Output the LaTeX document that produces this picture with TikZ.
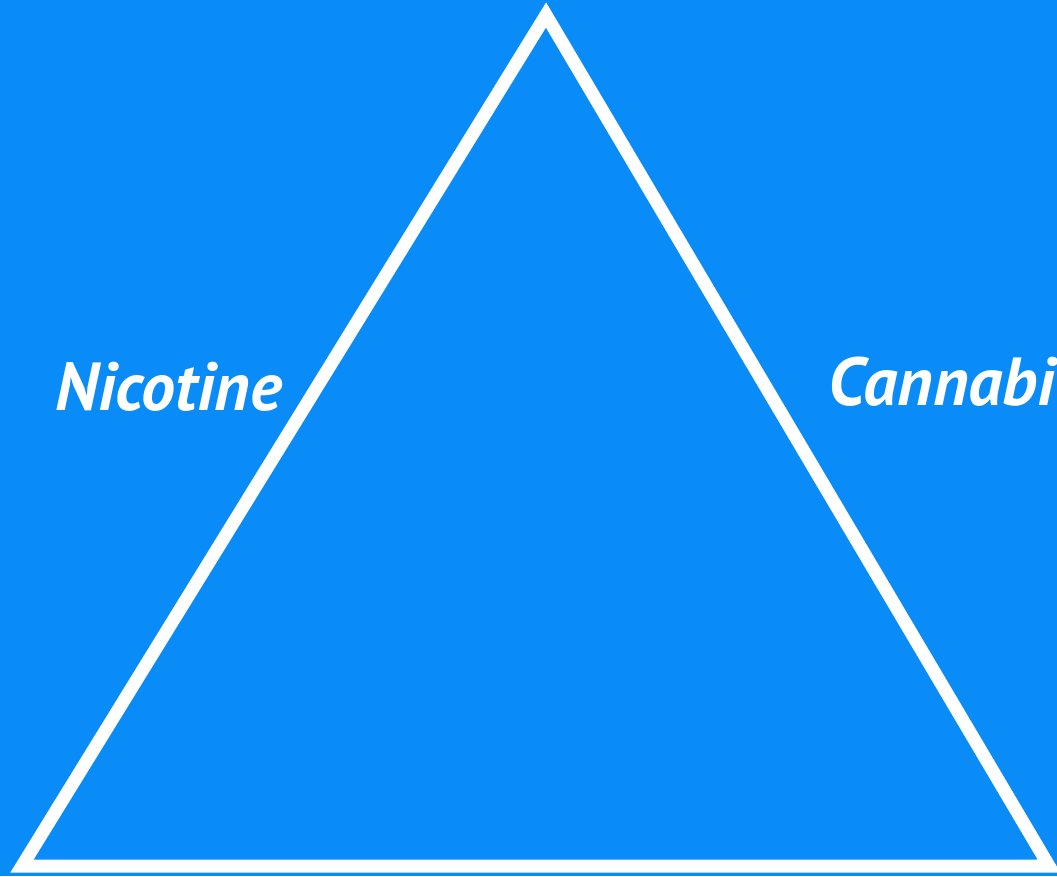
\documentclass[tikz,border=0pt]{standalone}
\usepackage{fontspec}
\setmainfont{PT Sans}
\definecolor{bg}{RGB}{10,140,248}
\tikzset{
  edge/.style={draw=white,line width=13pt,line join=miter},
  label/.style={text=white,font=\fontsize{68}{68}\selectfont\bfseries\itshape,inner sep=0pt,anchor=base west}
}
\begin{document}
\begin{tikzpicture}[x=1pt,y=-1pt]
\useasboundingbox (0,0) rectangle (1057,876);
\clip (0,0) rectangle (1057,876);
\fill[bg] (0,0) rectangle (1057,876);
\coordinate (apex) at (546,15);
\coordinate (bl) at (22,866);
\coordinate (br) at (1049,866);
\draw[edge] (apex) -- (bl) -- (br) -- cycle;
\node[label] (nic) at (55,410) {Nicotine};
\node[label,anchor=base east] (can) at (1055,405) {Cannabi};
\end{tikzpicture}
\end{document}
